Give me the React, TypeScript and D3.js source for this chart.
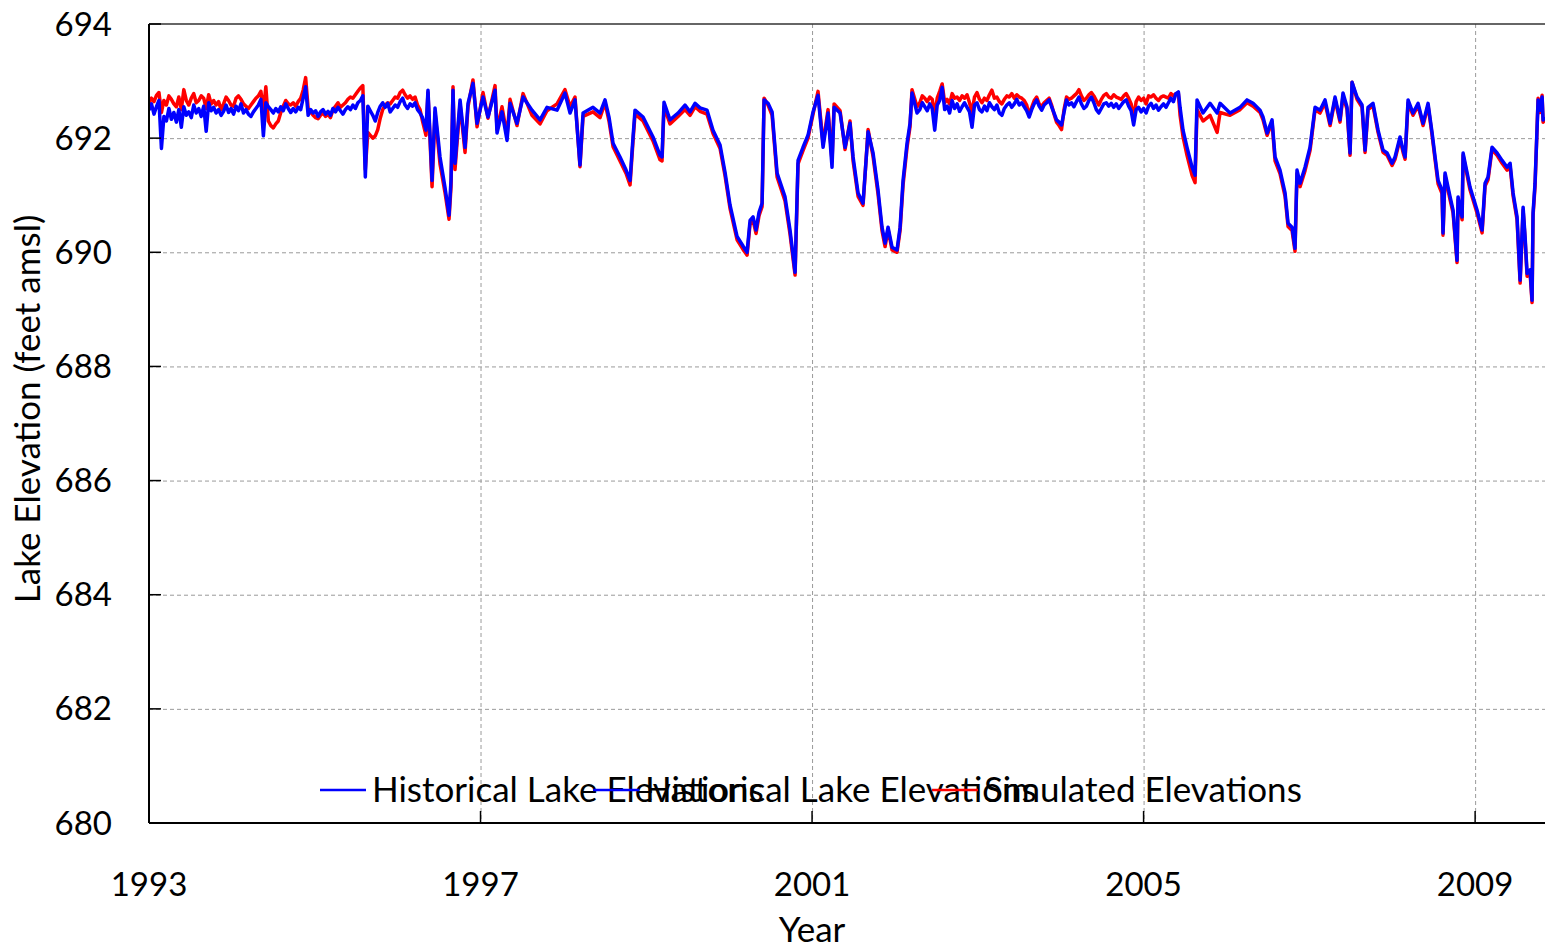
import * as d3 from "d3";
import { useEffect, useRef } from "react";

// decimal years of the samples
const years = [
  // 1993 - 1996.3
  1993.0, 1993.03, 1993.06, 1993.09, 1993.12, 1993.15, 1993.18, 1993.21, 1993.24, 1993.27,
  1993.3, 1993.33, 1993.36, 1993.39, 1993.42, 1993.45, 1993.48, 1993.51, 1993.54, 1993.57,
  1993.6, 1993.63, 1993.66, 1993.69, 1993.72, 1993.75, 1993.78, 1993.81, 1993.84, 1993.87,
  1993.9, 1993.93, 1993.96, 1993.99, 1994.02, 1994.05, 1994.08, 1994.11, 1994.14, 1994.17,
  1994.2, 1994.23, 1994.26, 1994.29, 1994.32, 1994.35, 1994.38, 1994.41, 1994.44, 1994.47,
  1994.5, 1994.53, 1994.56, 1994.59, 1994.62, 1994.65, 1994.68, 1994.71, 1994.74, 1994.77,
  1994.8, 1994.83, 1994.86, 1994.89, 1994.92, 1994.95, 1994.98, 1995.01, 1995.04, 1995.07,
  1995.1, 1995.13, 1995.16, 1995.19, 1995.22, 1995.25, 1995.28, 1995.31, 1995.34, 1995.37,
  1995.4, 1995.43, 1995.46, 1995.49, 1995.52, 1995.55, 1995.58, 1995.61, 1995.64, 1995.67,
  1995.7, 1995.73, 1995.76, 1995.79, 1995.82, 1995.85, 1995.88, 1995.91, 1995.94, 1995.97,
  1996.0, 1996.03, 1996.06, 1996.09, 1996.12, 1996.15, 1996.18, 1996.21, 1996.24, 1996.27,
  1996.3,
  // 1996.3 - 2002.3
  1996.342, 1996.366, 1996.415,
  1996.451, 1996.511, 1996.571, 1996.62, 1996.644, 1996.668, 1996.692, 1996.753, 1996.813, 1996.849,
  1996.909, 1996.958, 1997.03, 1997.09, 1997.175, 1997.199, 1997.259, 1997.32, 1997.356, 1997.44,
  1997.513, 1997.621, 1997.718, 1997.802, 1997.923, 1998.019, 1998.08, 1998.14, 1998.2, 1998.237,
  1998.357, 1998.442, 1998.502, 1998.55, 1998.599, 1998.683, 1998.756, 1998.804, 1998.84, 1998.864,
  1998.961, 1999.081, 1999.166, 1999.19, 1999.214, 1999.286, 1999.383, 1999.467, 1999.528, 1999.588,
  1999.648, 1999.733, 1999.805, 1999.89, 1999.95, 2000.01, 2000.095, 2000.167, 2000.216, 2000.252,
  2000.288, 2000.324, 2000.36, 2000.397, 2000.421, 2000.469, 2000.518, 2000.578, 2000.674, 2000.734,
  2000.795, 2000.831, 2000.891, 2000.951, 2001.012, 2001.072, 2001.133, 2001.193, 2001.241, 2001.266,
  2001.338, 2001.398, 2001.458, 2001.495, 2001.555, 2001.615, 2001.676, 2001.736, 2001.796, 2001.844,
  2001.881, 2001.917, 2001.965, 2002.025, 2002.062, 2002.098, 2002.146, 2002.182, 2002.206, 2002.267,
  // 2002.3 - 2005.42
  2002.3, 2002.33, 2002.36, 2002.39, 2002.42, 2002.45, 2002.48, 2002.51, 2002.54, 2002.57,
  2002.6, 2002.63, 2002.66, 2002.69, 2002.72, 2002.75, 2002.78, 2002.81, 2002.84, 2002.87,
  2002.9, 2002.93, 2002.96, 2002.99, 2003.02, 2003.05, 2003.08, 2003.11, 2003.14, 2003.17,
  2003.2, 2003.23, 2003.26, 2003.29, 2003.32, 2003.35, 2003.38, 2003.41, 2003.44, 2003.47,
  2003.5, 2003.53, 2003.56, 2003.59, 2003.62, 2003.65, 2003.68, 2003.71, 2003.74, 2003.77,
  2003.8, 2003.83, 2003.86, 2003.89, 2003.92, 2003.95, 2003.98, 2004.01, 2004.04, 2004.07,
  2004.1, 2004.13, 2004.16, 2004.19, 2004.22, 2004.25, 2004.28, 2004.31, 2004.34, 2004.37,
  2004.4, 2004.43, 2004.46, 2004.49, 2004.52, 2004.55, 2004.58, 2004.61, 2004.64, 2004.67,
  2004.7, 2004.73, 2004.76, 2004.79, 2004.82, 2004.85, 2004.88, 2004.91, 2004.94, 2004.97,
  2005.0, 2005.03, 2005.06, 2005.09, 2005.12, 2005.15, 2005.18, 2005.21, 2005.24, 2005.27,
  2005.3, 2005.33, 2005.36, 2005.39, 2005.42,
  // 2005.44 - end
  2005.44, 2005.476, 2005.524, 2005.585, 2005.621, 2005.645, 2005.717, 2005.802, 2005.887,
  2005.923, 2006.043, 2006.164, 2006.248, 2006.321, 2006.405, 2006.441, 2006.49, 2006.55, 2006.586,
  2006.646, 2006.707, 2006.743, 2006.791, 2006.827, 2006.851, 2006.888, 2006.948, 2007.008, 2007.069,
  2007.129, 2007.189, 2007.25, 2007.31, 2007.37, 2007.406, 2007.455, 2007.491, 2007.515, 2007.575,
  2007.636, 2007.672, 2007.708, 2007.768, 2007.829, 2007.889, 2007.938, 2007.998, 2008.034, 2008.094,
  2008.131, 2008.155, 2008.191, 2008.251, 2008.312, 2008.372, 2008.432, 2008.481, 2008.517, 2008.553,
  2008.601, 2008.613, 2008.637, 2008.698, 2008.734, 2008.782, 2008.794, 2008.843, 2008.855, 2008.939,
  2009.023, 2009.084, 2009.12, 2009.156, 2009.204, 2009.265, 2009.325, 2009.386, 2009.422, 2009.458,
  2009.506, 2009.543, 2009.579, 2009.603, 2009.627, 2009.663, 2009.687, 2009.699, 2009.723, 2009.76,
  2009.784, 2009.808, 2009.82, 2009.844,
];

// Historical Lake Elevations (feet amsl)
const historical = [
  692.49, 692.6, 692.42, 692.55, 692.66, 691.82, 692.38, 692.3, 692.52, 692.33,
  692.45, 692.28, 692.5, 692.19, 692.55, 692.4, 692.46, 692.36, 692.58, 692.44,
  692.52, 692.38, 692.56, 692.12, 692.62, 692.48, 692.54, 692.44, 692.5, 692.4,
  692.47, 692.58, 692.45, 692.52, 692.42, 692.56, 692.48, 692.6, 692.44, 692.5,
  692.42, 692.38, 692.46, 692.52, 692.58, 692.68, 692.04, 692.62, 692.55, 692.5,
  692.44, 692.52, 692.46, 692.55, 692.48, 692.6, 692.52, 692.45, 692.52, 692.46,
  692.54, 692.5, 692.7, 692.9, 692.4, 692.5, 692.44, 692.48, 692.38, 692.46,
  692.5, 692.42, 692.47, 692.4, 692.52, 692.46, 692.54, 692.48, 692.42, 692.5,
  692.55, 692.5, 692.58, 692.52, 692.62, 692.66, 692.74, 691.32, 692.56, 692.48,
  692.4, 692.3, 692.45, 692.56, 692.62, 692.54, 692.61, 692.46, 692.52, 692.58,
  692.54, 692.64, 692.7, 692.58, 692.52, 692.6, 692.56, 692.62, 692.5, 692.44,
  692.36,
  692.14, 692.84, 691.26,
  692.53, 691.67, 691.14, 690.65, 691.26, 692.84, 691.56, 692.67, 691.84, 692.61,
  692.96, 692.26, 692.72, 692.37, 692.84, 692.09, 692.46, 691.96, 692.61, 692.26,
  692.72, 692.49, 692.32, 692.54, 692.49, 692.79, 692.44, 692.67, 691.53, 692.44,
  692.54, 692.44, 692.67, 692.37, 691.91, 691.67, 691.44, 691.26, 692.02, 692.49,
  692.37, 692.02, 691.7, 691.67, 692.63, 692.32, 692.44, 692.58, 692.46, 692.61,
  692.53, 692.49, 692.14, 691.88, 691.4, 690.83, 690.28, 690.11, 690.0, 690.56,
  690.62, 690.39, 690.7, 690.86, 692.67, 692.61, 692.46, 691.39, 690.97, 690.39,
  689.65, 691.61, 691.84, 692.05, 692.46, 692.75, 691.84, 692.44, 691.49, 692.54,
  692.44, 691.84, 692.26, 691.67, 691.04, 690.86, 692.11, 691.74, 691.09, 690.44,
  690.16, 690.44, 690.09, 690.04, 690.44, 691.26, 691.91, 692.26, 692.79, 692.44,
  692.5, 692.62, 692.55, 692.48, 692.6, 692.52, 692.14, 692.58, 692.66, 692.89,
  692.5, 692.56, 692.44, 692.66, 692.52, 692.6, 692.47, 692.55, 692.62, 692.54,
  692.46, 692.19, 692.58, 692.62, 692.5, 692.46, 692.56, 692.48, 692.62, 692.55,
  692.5, 692.58, 692.44, 692.4, 692.52, 692.58, 692.62, 692.54, 692.6, 692.68,
  692.58, 692.62, 692.55, 692.48, 692.37, 692.5, 692.6, 692.67, 692.56, 692.49,
  692.58, 692.62, 692.67, 692.55, 692.44, 692.32, 692.28, 692.23, 692.45, 692.67,
  692.58, 692.62, 692.55, 692.64, 692.72, 692.6, 692.52, 692.56, 692.66, 692.72,
  692.62, 692.5, 692.44, 692.52, 692.6, 692.62, 692.56, 692.61, 692.54, 692.6,
  692.52, 692.58, 692.64, 692.67, 692.56, 692.48, 692.23, 692.5, 692.54, 692.46,
  692.52, 692.44, 692.56, 692.61, 692.52, 692.58, 692.49, 692.55, 692.6, 692.54,
  692.62, 692.7, 692.64, 692.78, 692.81,
  692.54, 692.14, 691.84, 691.49, 691.35, 692.67, 692.44, 692.61, 692.44,
  692.61, 692.44, 692.54, 692.67, 692.61, 692.49, 692.37, 692.09, 692.32, 691.67,
  691.44, 691.04, 690.51, 690.44, 690.07, 691.44, 691.21, 691.49, 691.84, 692.54,
  692.49, 692.67, 692.26, 692.72, 692.32, 692.79, 692.54, 691.74, 692.98, 692.72,
  692.58, 691.79, 692.54, 692.61, 692.14, 691.79, 691.74, 691.56, 691.67, 692.02,
  691.79, 691.67, 692.67, 692.44, 692.61, 692.26, 692.61, 692.09, 691.67, 691.26,
  691.09, 690.34, 691.39, 690.97, 690.74, 689.86, 690.97, 690.62, 691.74, 691.14,
  690.74, 690.39, 691.21, 691.32, 691.84, 691.74, 691.61, 691.49, 691.56, 691.04,
  690.62, 689.51, 690.79, 690.27, 689.63, 689.69, 689.16, 690.69, 691.21, 692.67,
  692.49, 692.72, 692.32, 692.37,
];

// Simulated Elevations (feet amsl)
const simulated = [
  692.62, 692.7, 692.64, 692.75, 692.8, 692.45, 692.66, 692.58, 692.74, 692.68,
  692.6, 692.55, 692.72, 692.5, 692.85, 692.66, 692.58, 692.7, 692.78, 692.62,
  692.66, 692.74, 692.7, 692.52, 692.76, 692.6, 692.66, 692.58, 692.64, 692.5,
  692.6, 692.72, 692.66, 692.58, 692.56, 692.7, 692.74, 692.68, 692.6, 692.56,
  692.52, 692.58, 692.64, 692.7, 692.74, 692.82, 692.48, 692.9, 692.3, 692.22,
  692.18, 692.25, 692.3, 692.45, 692.56, 692.66, 692.6, 692.58, 692.62, 692.56,
  692.64, 692.7, 692.84, 693.06, 692.52, 692.46, 692.4, 692.36, 692.34, 692.4,
  692.44, 692.38, 692.42, 692.36, 692.5, 692.56, 692.62, 692.54, 692.58, 692.62,
  692.68, 692.72, 692.7, 692.76, 692.82, 692.88, 692.92, 691.45, 692.1, 692.05,
  692.0, 692.04, 692.15, 692.35, 692.5, 692.58, 692.62, 692.6, 692.66, 692.72,
  692.7, 692.8, 692.84, 692.76, 692.7, 692.74, 692.68, 692.72, 692.58, 692.5,
  692.3,
  692.05, 692.8, 691.15,
  692.45, 691.55, 691.05, 690.58, 691.15, 692.9, 691.45, 692.6, 691.75, 692.55,
  693.02, 692.2, 692.8, 692.35, 692.92, 692.15, 692.55, 692.05, 692.68, 692.22,
  692.78, 692.4, 692.25, 692.48, 692.6, 692.85, 692.55, 692.72, 691.5, 692.38,
  692.46, 692.36, 692.62, 692.3, 691.85, 691.6, 691.38, 691.18, 691.95, 692.42,
  692.3, 691.95, 691.62, 691.6, 692.55, 692.25, 692.38, 692.5, 692.4, 692.55,
  692.47, 692.42, 692.08, 691.82, 691.34, 690.77, 690.22, 690.05, 689.95, 690.5,
  690.56, 690.33, 690.64, 690.8, 692.7, 692.58, 692.4, 691.32, 690.9, 690.32,
  689.6, 691.55, 691.78, 692.0, 692.42, 692.82, 691.9, 692.5, 691.6, 692.6,
  692.48, 691.8, 692.3, 691.6, 690.98, 690.82, 692.15, 691.68, 691.02, 690.38,
  690.1, 690.4, 690.04, 690.0, 690.38, 691.18, 691.84, 692.2, 692.85, 692.55,
  692.62, 692.74, 692.7, 692.64, 692.72, 692.68, 692.4, 692.7, 692.82, 692.95,
  692.62, 692.68, 692.6, 692.78, 692.7, 692.72, 692.66, 692.74, 692.7, 692.76,
  692.62, 692.45, 692.72, 692.8, 692.68, 692.62, 692.7, 692.66, 692.76, 692.84,
  692.7, 692.72, 692.64, 692.6, 692.68, 692.74, 692.72, 692.78, 692.7, 692.76,
  692.72, 692.7, 692.66, 692.58, 692.4, 692.54, 692.66, 692.72, 692.6, 692.55,
  692.62, 692.66, 692.7, 692.58, 692.42, 692.28, 692.22, 692.15, 692.5, 692.72,
  692.68, 692.7, 692.74, 692.78, 692.85, 692.74, 692.66, 692.7, 692.76, 692.8,
  692.74, 692.66, 692.58, 692.68, 692.75, 692.78, 692.72, 692.7, 692.76, 692.72,
  692.7, 692.68, 692.74, 692.78, 692.7, 692.6, 692.35, 692.64, 692.72, 692.66,
  692.7, 692.6, 692.74, 692.72, 692.76, 692.7, 692.66, 692.72, 692.74, 692.72,
  692.7, 692.78, 692.74, 692.78, 692.78,
  692.4, 692.02, 691.7, 691.35, 691.22, 692.5, 692.3, 692.4, 692.1,
  692.45, 692.4, 692.5, 692.62, 692.56, 692.45, 692.32, 692.05, 692.28, 691.6,
  691.38, 690.98, 690.45, 690.38, 690.02, 691.38, 691.15, 691.43, 691.78, 692.5,
  692.44, 692.62, 692.22, 692.68, 692.28, 692.74, 692.5, 691.7, 692.98, 692.68,
  692.54, 691.75, 692.5, 692.57, 692.1, 691.75, 691.7, 691.52, 691.63, 691.98,
  691.75, 691.63, 692.62, 692.4, 692.57, 692.22, 692.57, 692.05, 691.62, 691.2,
  691.03, 690.3, 691.34, 690.92, 690.69, 689.82, 690.92, 690.57, 691.7, 691.09,
  690.69, 690.34, 691.16, 691.27, 691.8, 691.7, 691.56, 691.44, 691.51, 690.99,
  690.57, 689.46, 690.74, 690.22, 689.58, 689.64, 689.12, 690.64, 691.16, 692.7,
  692.45, 692.75, 692.28, 692.33,
];

const yTicks = [680, 682, 684, 686, 688, 690, 692, 694];
const xTicks = [1993, 1997, 2001, 2005, 2009];

const legendLabels = [
  "Historical Lake Elevations",
  "Historical Lake Elevations",
  "Simulated Elevations",
];
const legendColors = ["#0000ff", "#0000ff", "#ff0000"];

const App = () => {
  const ref = useRef(null);

  useEffect(() => {
    const svg = d3.select(ref.current);
    svg.selectAll("*").remove();

    const width = 1545;
    const height = 948;
    const left = 149;
    const top = 24;
    const bottom = 823;
    const right = 1558; // the right frame falls just outside the picture
    const font = "Lato, 'Open Sans', sans-serif";

    svg.attr("width", width).attr("height", height);

    const x = d3.scaleLinear().domain([1993, 2010]).range([left, right]);
    const y = d3.scaleLinear().domain([680, 694]).range([bottom, top]);

    // white background
    svg.append("rect").attr("width", width).attr("height", height).attr("fill", "#fff");

    const defs = svg.append("defs");
    defs
      .append("clipPath")
      .attr("id", "plot-clip")
      .append("rect")
      .attr("x", left)
      .attr("y", top)
      .attr("width", right - left)
      .attr("height", bottom - top);

    // grid lines
    const grid = svg.append("g");
    grid
      .selectAll("line.h")
      .data(yTicks.filter((d) => d !== 680 && d !== 694))
      .join("line")
      .attr("x1", left)
      .attr("x2", right)
      .attr("y1", (d) => y(d) + 0.5)
      .attr("y2", (d) => y(d) + 0.5)
      .attr("stroke", "#9a9a9a")
      .attr("stroke-width", 1)
      .attr("stroke-dasharray", "4,3");
    grid
      .selectAll("line.v")
      .data(xTicks.filter((d) => d !== 1993))
      .join("line")
      .attr("x1", (d) => x(d) + 0.5)
      .attr("x2", (d) => x(d) + 0.5)
      .attr("y1", top)
      .attr("y2", bottom)
      .attr("stroke", "#9a9a9a")
      .attr("stroke-width", 1)
      .attr("stroke-dasharray", "4,3");

    // the two series, red under blue
    const n = Math.min(years.length, historical.length, simulated.length);
    const idx = d3.range(n);
    const lineOf = (vals) =>
      d3
        .line()
        .x((i) => x(years[i]))
        .y((i) => y(vals[i]));

    const plot = svg.append("g").attr("clip-path", "url(#plot-clip)");
    plot
      .append("path")
      .attr("d", lineOf(simulated)(idx))
      .attr("fill", "none")
      .attr("stroke", "#ff0000")
      .attr("stroke-width", 3.5)
      .attr("stroke-linejoin", "round");
    plot
      .append("path")
      .attr("d", lineOf(historical)(idx))
      .attr("fill", "none")
      .attr("stroke", "#0000ff")
      .attr("stroke-width", 3.5)
      .attr("stroke-linejoin", "round");

    // legend (entries overlap, as in the source)
    const legendX = [320, 593, 932];
    const legendY = 790;
    const lg = svg.append("g");
    legendLabels.forEach((label, i) => {
      lg.append("line")
        .attr("x1", legendX[i])
        .attr("x2", legendX[i] + 46)
        .attr("y1", legendY)
        .attr("y2", legendY)
        .attr("stroke", legendColors[i])
        .attr("stroke-width", 2.5);
      lg.append("text")
        .attr("x", legendX[i] + 52)
        .attr("y", legendY)
        .attr("dy", "0.35em")
        .attr("font-family", font)
        .attr("font-size", 35)
        .attr("fill", "#000")
        .text(label);
    });

    // frame
    svg
      .append("line")
      .attr("x1", left)
      .attr("x2", right)
      .attr("y1", top)
      .attr("y2", top)
      .attr("stroke", "#333")
      .attr("stroke-width", 1.5);
    svg
      .append("line")
      .attr("x1", left)
      .attr("x2", left)
      .attr("y1", top)
      .attr("y2", bottom)
      .attr("stroke", "#000")
      .attr("stroke-width", 2);
    svg
      .append("line")
      .attr("x1", left)
      .attr("x2", right)
      .attr("y1", bottom)
      .attr("y2", bottom)
      .attr("stroke", "#000")
      .attr("stroke-width", 2);

    // y ticks + labels
    const ya = svg.append("g");
    ya.selectAll("line")
      .data(yTicks)
      .join("line")
      .attr("x1", left)
      .attr("x2", left + 12)
      .attr("y1", (d) => y(d))
      .attr("y2", (d) => y(d))
      .attr("stroke", "#000")
      .attr("stroke-width", 1.5);
    ya.selectAll("text")
      .data(yTicks)
      .join("text")
      .attr("x", 112)
      .attr("y", (d) => y(d))
      .attr("dy", "0.35em")
      .attr("text-anchor", "end")
      .attr("font-family", font)
      .attr("font-size", 33)
      .text((d) => d);

    // x ticks + labels
    const xa = svg.append("g");
    xa.selectAll("line")
      .data(xTicks)
      .join("line")
      .attr("x1", (d) => x(d))
      .attr("x2", (d) => x(d))
      .attr("y1", bottom)
      .attr("y2", bottom - 12)
      .attr("stroke", "#000")
      .attr("stroke-width", 1.5);
    xa.selectAll("text")
      .data(xTicks)
      .join("text")
      .attr("x", (d) => x(d))
      .attr("y", 896)
      .attr("text-anchor", "middle")
      .attr("font-family", font)
      .attr("font-size", 33)
      .text((d) => d);

    // axis titles
    svg
      .append("text")
      .attr("x", 812)
      .attr("y", 942)
      .attr("text-anchor", "middle")
      .attr("font-family", font)
      .attr("font-size", 35)
      .text("Year");
    svg
      .append("text")
      .attr("transform", "translate(40, 409) rotate(-90)")
      .attr("text-anchor", "middle")
      .attr("font-family", font)
      .attr("font-size", 35)
      .text("Lake Elevation (feet amsl)");
  }, []);

  return (
    <svg
      ref={ref}
      style={{ position: "absolute", left: 0, top: 0, display: "block" }}
    ></svg>
  );
};

export default App;
